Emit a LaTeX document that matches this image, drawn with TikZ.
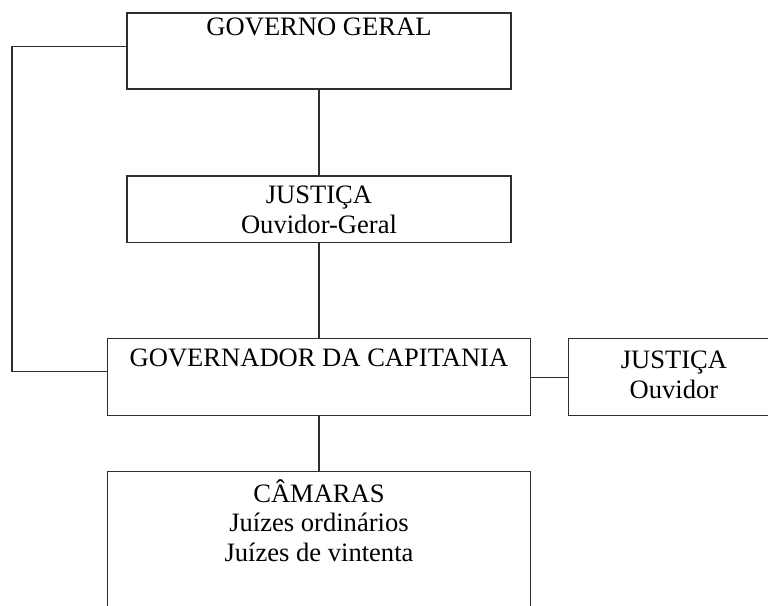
\documentclass[tikz,border=0pt]{standalone}
\usepackage{fontspec}
\setmainfont{Liberation Serif}
\usepackage{tikz}
\usetikzlibrary{positioning,calc}
\definecolor{linec}{HTML}{2E2E2E}

\begin{document}
\begin{tikzpicture}[
  font=\fontsize{20}{22.5}\selectfont,
  orgbox/.style ={draw=linec, line width=0.9pt, inner sep=0pt},
  lbl/.style    ={anchor=north, align=center, inner sep=0pt},
  conn/.style   ={draw=linec, line width=0.9pt}
]
\useasboundingbox (0,0) rectangle (20.32,16.03);
% ---------- boxes ----------
\node[orgbox, minimum width=10.16cm, minimum height=2.01cm] (gg)  at (8.44,14.68) {};
\node[orgbox, minimum width=10.16cm, minimum height=1.77cm] (jg)  at (8.44,10.49) {};
\node[orgbox, minimum width=11.19cm, minimum height=2.04cm] (gc)  at (8.44,6.05)  {};
\node[orgbox, minimum width=5.56cm,  minimum height=2.04cm] (ou)  at (17.83,6.05) {};
\node[orgbox, minimum width=11.19cm, minimum height=4cm]    (cam) at (8.44,1.55)  {};

% ---------- labels ----------
\node[lbl] (ggt)  at ([yshift=-1.3mm]gg.north)  {GOVERNO GERAL};
\node[lbl] (jgt)  at ([yshift=-2.8mm]jg.north)  {JUSTIÇA\\Ouvidor-Geral};
\node[lbl] (gct)  at ([yshift=-2.9mm]gc.north)  {GOVERNADOR DA CAPITANIA};
\node[lbl] (out)  at ([yshift=-3.4mm]ou.north)  {JUSTIÇA\\Ouvidor};
\node[lbl] (camt) at ([yshift=-2.1mm]cam.north) {CÂMARAS\\Juízes ordinários\\Juízes de vintenta};

% ---------- connectors ----------
\coordinate (lft) at (0.32,10);
\draw[conn] (gg) -- (jg);
\draw[conn] (jg) -- (gc);
\draw[conn] (gc) -- (ou);
\draw[conn] (gc) -- (cam);
\draw[conn] ([yshift=1.1mm]gg.west) -| (lft) |- ([yshift=1.4mm]gc.west);
\end{tikzpicture}
\end{document}
